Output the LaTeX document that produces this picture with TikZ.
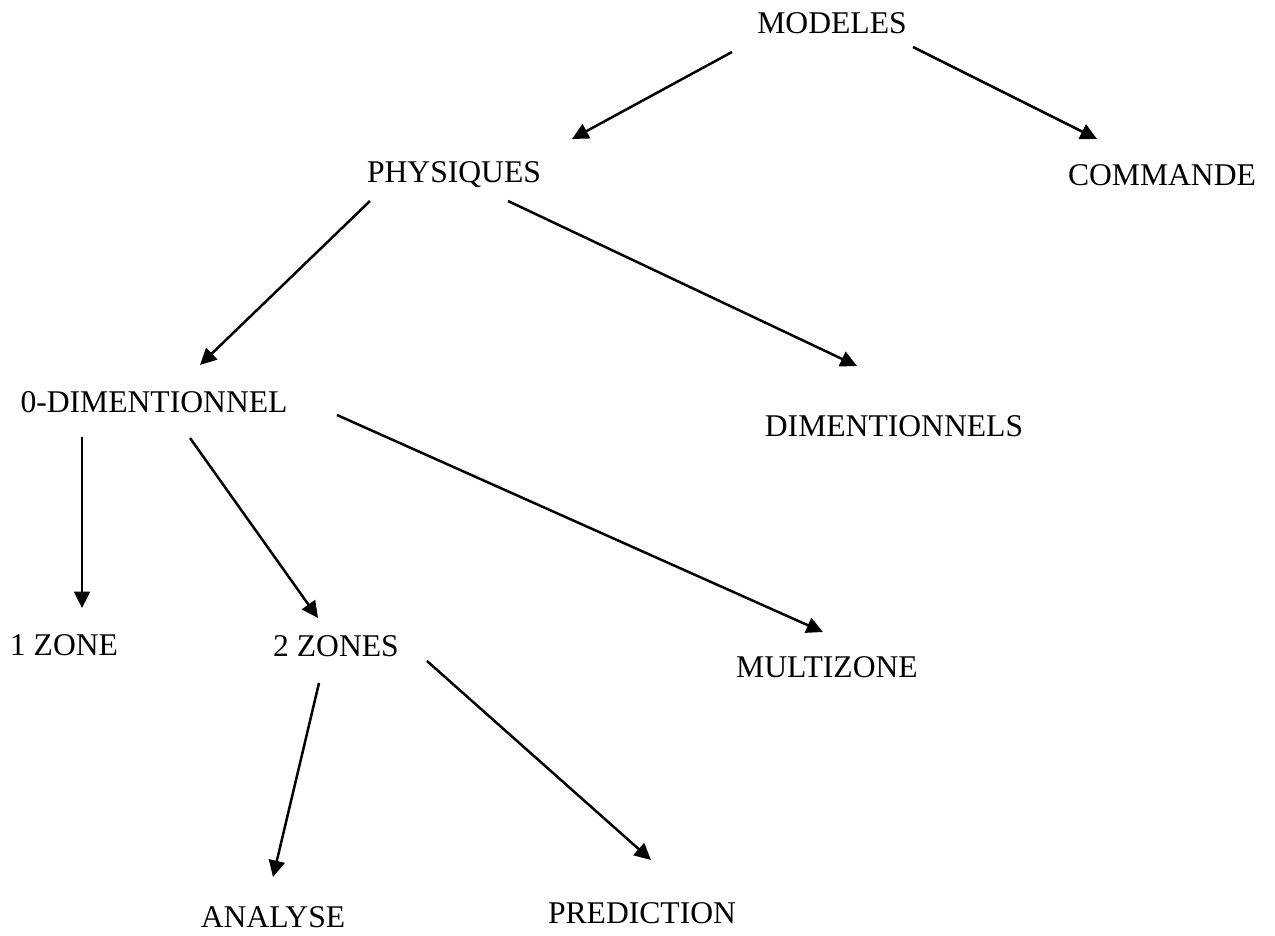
\documentclass[tikz,border=0pt]{standalone}
\usepackage{fontspec}
\setmainfont{Liberation Serif}
\usepackage{tikz}
\usetikzlibrary{arrows.meta, positioning, calc}

\begin{document}
\begin{tikzpicture}[
    x=0.02cm, y=-0.02cm,
    lbl/.style={inner sep=0pt, text height=11.9pt, text depth=0pt, font=\fontsize{18}{22}\selectfont},
    arrow/.style={-{Triangle[length=0.33cm, width=0.32cm]}, line width=0.05cm, color=black}
]
\useasboundingbox (0,0) rectangle (1275,936);
\node[lbl] (modeles) at (832,23) {MODELES};
\node[lbl] (physiques) at (454,172) {PHYSIQUES};
\node[lbl] (commande) at (1162,175) {COMMANDE};
\node[lbl] (zerodim) at (154,402) {0-DIMENTIONNEL};
\node[lbl] (dims) at (894,426) {DIMENTIONNELS};
\node[lbl] (zone1) at (64,645) {1 ZONE};
\node[lbl] (zones2) at (336,646) {2 ZONES};
\node[lbl] (multi) at (827,667) {MULTIZONE};
\node[lbl] (analyse) at (273,917) {ANALYSE};
\node[lbl] (prediction) at (642,913) {PREDICTION};
\draw[arrow] ($(modeles)+(-100,29)$) -- ($(physiques)+(118,-33)$);
\draw[arrow] ($(modeles)+(81,24)$) -- ($(commande)+(-65,-36)$);
\draw[arrow] ($(physiques)+(-84,29)$) -- ($(zerodim)+(46,-37)$);
\draw[arrow] ($(physiques)+(54,29)$) -- ($(dims)+(-37,-60)$);
\draw[arrow] ($(zerodim)+(-72,35)$) -- ($(zone1)+(18,-37)$);
\draw[arrow] ($(zerodim)+(36,36)$) -- ($(zones2)+(-18,-28)$);
\draw[arrow] ($(zerodim)+(183,13)$) -- ($(multi)+(-4,-35)$);
\draw[arrow] ($(zones2)+(-17,37)$) -- ($(analyse)+(0,-40)$);
\draw[arrow] ($(zones2)+(91,15)$) -- ($(prediction)+(9,-53)$);
\end{tikzpicture}
\end{document}
